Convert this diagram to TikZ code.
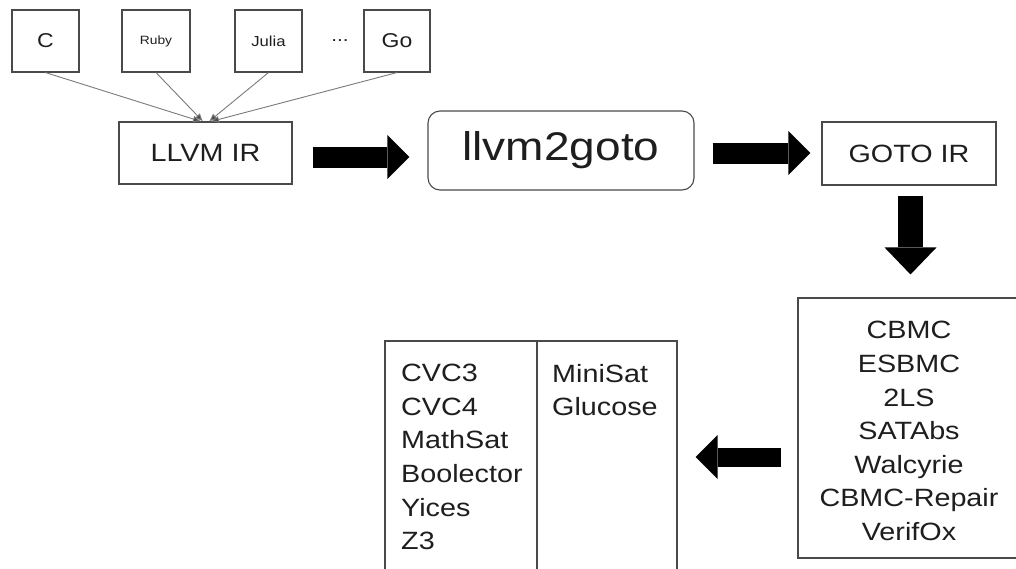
\documentclass[tikz,border=0pt]{standalone}
\usepackage{fontspec}
\setmainfont[FakeStretch=1.15]{Liberation Sans}
\usepackage{xcolor}
\usepackage{tikz}
\usetikzlibrary{positioning,arrows.meta,calc}
\definecolor{mFrame}{HTML}{4A4A4A}
\definecolor{mText}{HTML}{1E1E1E}
\definecolor{mWire}{HTML}{7A7A7A}
\newcommand{\fsz}[1]{\fontsize{#1}{33.6}\selectfont}
\tikzset{
 box/.style={draw=mFrame, line width=1.1pt, text=mText, inner sep=0pt},
 wire/.style={draw=mWire, line width=0.9pt, -{Latex[length=8pt 0 0,width=7pt 0 0,fill=mFrame]}},
 bigarrow/.style={draw=black, line width=21pt, -{Triangle[length=22pt 0 0,width=44pt 0 0,line width=0pt 0 0]}}
}
\newcommand{\langnode}[5]{%
 \node[box, minimum width=#4, minimum height=62pt, font=\fsz{#5}] (#2) at (#1,41) {#3};}

\begin{document}
\begin{tikzpicture}[x=1pt,y=-1pt]
\clip (0,0) rectangle (1016,568);
\langnode{45.5}{c}{C}{67pt}{20}
\langnode{156}{ruby}{Ruby}{68pt}{12}
\langnode{268.5}{julia}{Julia}{67pt}{14.5}
\node[font=\fsz{18}, text=mText] (dots) at (340,41) {...};
\langnode{397}{go}{Go}{66pt}{20}
\node[box, minimum width=173pt, minimum height=62pt, font=\fsz{25}] (llvm) at (205.5,153) {LLVM IR};
\node[box, rounded corners=12pt, minimum width=266pt, minimum height=79pt, font=\fsz{40}] (ltg) at (561,150.5) {llvm2goto};
\node[box, minimum width=174pt, minimum height=63pt, font=\fsz{25}] (goto) at (909,153.5) {GOTO IR};
% verifiers
\node[box, minimum width=222pt, minimum height=260pt] (tools) at (909,428) {};
\node[font=\fsz{25}, text=mText, align=center, inner sep=0pt] (toollist) at (909,431)
 {CBMC\\ESBMC\\2LS\\SATAbs\\Walcyrie\\CBMC-Repair\\VerifOx};
% solvers
\node[box, minimum width=152pt, minimum height=239pt] (smt) at (461,460.5) {};
\node[box, minimum width=140pt, minimum height=239pt] (sat) at (607,460.5) {};
\node[font=\fsz{25}, text=mText, align=left, inner sep=0pt, anchor=north west] (smtlist) at (401,364)
 {CVC3\\CVC4\\MathSat\\Boolector\\Yices\\Z3};
\node[font=\fsz{25}, text=mText, align=left, inner sep=0pt, anchor=north west] (satlist) at (552,364)
 {MiniSat\\Glucose};
% front ends
\draw[wire] (c.south) -- ([xshift=-4.5pt]llvm.north);
\draw[wire] (ruby.south) -- ([xshift=-2.5pt]llvm.north);
\draw[wire] (julia.south) -- ([xshift=3.5pt]llvm.north);
\draw[wire] (go.south) -- ([xshift=5.5pt]llvm.north);
% pipeline
\draw[bigarrow] ($(llvm.east)+(20,4)$) -- ($(ltg.west)+(-18,6.5)$);
\draw[bigarrow] ($(ltg.east)+(18,2.5)$) -- ($(goto.west)+(-11,-0.5)$);
\draw[bigarrow, line width=25pt, -{Triangle[length=27pt 0 0,width=52pt 0 0,line width=0pt 0 0]}] ($(goto.south)+(1.5,10)$) -- ($(tools.north)+(1.5,-23)$);
\draw[bigarrow, line width=19pt] ($(tools.west)+(-16,29)$) -- ($(sat.east)+(18,-3.5)$);
\end{tikzpicture}
\end{document}
